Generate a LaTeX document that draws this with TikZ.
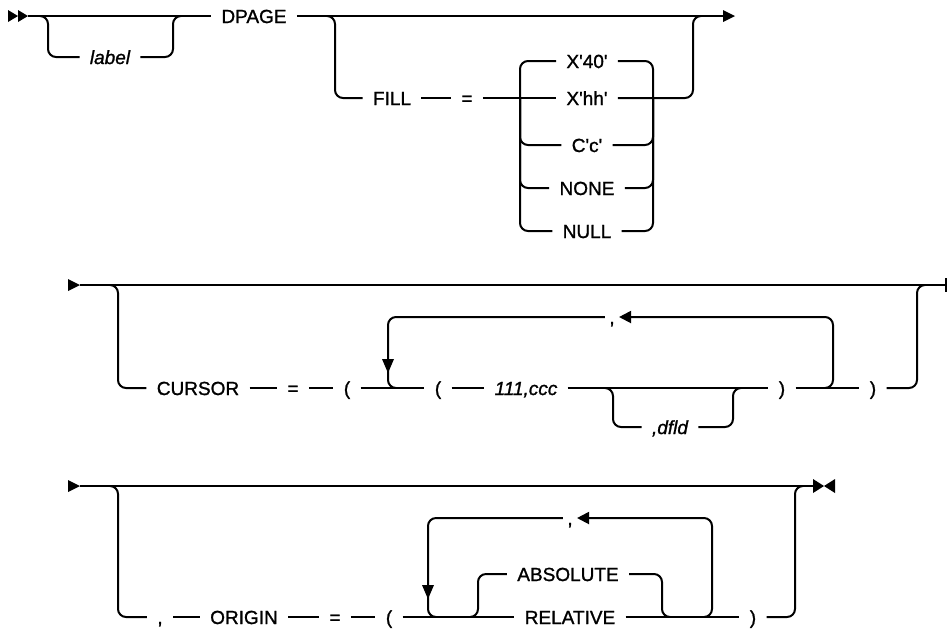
\documentclass[tikz,border=0pt]{standalone}
\usepackage{fontspec}
\setmainfont{Liberation Sans}[FakeBold=1.2]
\usetikzlibrary{arrows.meta}

\begin{document}
\begin{tikzpicture}[x=0.5pt,y=-0.5pt,
    rail/.style={line width=1pt,rounded corners=4pt},
    back/.style={rail,-{Triangle[length=6pt,width=6pt]}},
    kw/.style={inner xsep=5pt,inner ysep=0pt,text height=7pt,text depth=0pt,
               font=\fontsize{9.5}{11}\selectfont},
    var/.style={kw,font=\fontsize{9.5}{11}\selectfont\itshape},
    sepc/.style={kw,inner xsep=2pt}]
\useasboundingbox (0,0) rectangle (947,629);

% row 1: label DPAGE FILL=...
\fill (8,10) -- (18,16) -- (8,22) -- cycle;
\fill (18,10) -- (28,16) -- (18,22) -- cycle;
\node[var] (lbl) at (110,57) {label};
\node[kw] (dpage) at (254,16) {DPAGE};
\node[kw] (fill) at (392,98) {FILL};
\node[kw] (eq1) at (467,98) {=};
\node[kw] (x40) at (587,61) {X\textquotesingle 40\textquotesingle};
\node[kw] (xhh) at (587,98) {X\textquotesingle hh\textquotesingle};
\node[kw] (cc) at (587,145) {C\textquotesingle c\textquotesingle};
\node[kw] (none) at (587,188) {NONE};
\node[kw] (null) at (587,231) {NULL};
\draw[rail] (28,16) -- (dpage.west);
\draw[rail] (40,16) -| (48,57) -- (lbl.west);
\draw[rail] (lbl.east) -| (173,16) -- (181,16);
\draw[rail] (dpage.east) -- (723,16);
\fill (723,10) -- (735,16) -- (723,22) -- cycle;
\draw[rail] (327,16) -| (335,98) -- (fill.west);
\draw[rail] (fill.east) -- (eq1.west);
\draw[rail] (eq1.east) -- (xhh.west);
\draw[rail] (x40.west) -| (520,98) |- (null.west);
\draw[rail] (520,98) |- (cc.west);
\draw[rail] (520,98) |- (none.west);
\draw[rail] (x40.east) -| (653,98) |- (null.east);
\draw[rail] (653,98) |- (cc.east);
\draw[rail] (653,98) |- (none.east);
\draw[rail] (xhh.east) -| (693,16) -- (701,16);

% row 2: CURSOR=((lll,ccc,dfld),...)
\fill (68,279) -- (80,285) -- (68,291) -- cycle;
\node[kw] (cursor) at (198,388) {CURSOR};
\node[kw] (eq2) at (293,388) {=};
\node[kw] (lp1) at (347,388) {(};
\node[kw] (lp2) at (438,388) {(};
\node[var] (ccc) at (526,388) {111,ccc};
\node[var] (dfld) at (670,427) {,dfld};
\node[kw] (rp1) at (782,388) {)};
\node[kw] (rp2) at (873,388) {)};
\node[sepc] (cm1) at (612,317) {,};
\draw[rail] (80,285) -- (946,285);
\draw[line width=1pt] (946,278) -- (946,292);
\draw[rail] (110,285) -| (118,388) -- (cursor.west);
\draw[rail] (cursor.east) -- (eq2.west);
\draw[rail] (eq2.east) -- (lp1.west);
\draw[rail] (lp1.east) -- (lp2.west);
\draw[rail] (lp2.east) -- (ccc.west);
\draw[rail] (ccc.east) -- (rp1.west);
\draw[rail] (605,388) -| (613,427) -- (dfld.west);
\draw[rail] (dfld.east) -| (733,388) -- (741,388);
\draw[rail] (rp1.east) -- (rp2.west);
\draw[rail] (rp2.east) -| (917,285) -- (925,285);
\draw[back] (825,388) -| (833,317) -- (cm1.east);
\draw[rail] (cm1.west) -| (388,388) -- (396,388);
\fill (382,359) -- (394,359) -- (388,373) -- cycle;

% row 3: ,ORIGIN=(ABSOLUTE|RELATIVE,...)
\fill (68,480) -- (80,486) -- (68,492) -- cycle;
\node[kw] (cm2) at (160,617) {,};
\node[kw] (origin) at (244,617) {ORIGIN};
\node[kw] (eq3) at (335,617) {=};
\node[kw] (lp3) at (389,617) {(};
\node[kw] (absolute) at (568,574) {ABSOLUTE};
\node[kw] (relative) at (570,617) {RELATIVE};
\node[kw] (rp3) at (753,617) {)};
\node[sepc] (cm3) at (570,518) {,};
\draw[rail] (80,486) -- (813,486);
\fill (813,479) -- (824,486) -- (813,493) -- cycle;
\fill (835,479) -- (824,486) -- (835,493) -- cycle;
\draw[rail] (110,486) -| (118,617) -- (cm2.west);
\draw[rail] (cm2.east) -- (origin.west);
\draw[rail] (origin.east) -- (eq3.west);
\draw[rail] (eq3.east) -- (lp3.west);
\draw[rail] (lp3.east) -- (relative.west);
\draw[rail] (relative.east) -- (rp3.west);
\draw[rail] (rp3.east) -| (795,486) -- (803,486);
\draw[rail] (470,617) -| (478,574) -- (absolute.west);
\draw[rail] (absolute.east) -| (662,617) -- (670,617);
\draw[back] (704,617) -| (712,518) -- (cm3.east);
\draw[rail] (cm3.west) -| (428,617) -- (436,617);
\fill (422,585) -- (434,585) -- (428,599) -- cycle;
\end{tikzpicture}
\end{document}
